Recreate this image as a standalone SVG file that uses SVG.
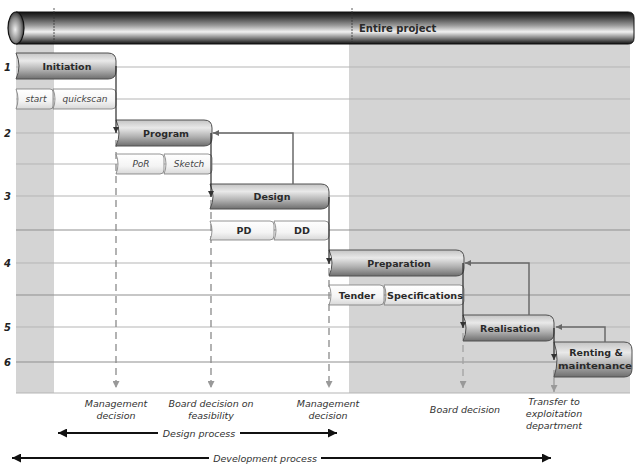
<svg xmlns="http://www.w3.org/2000/svg" width="635" height="468" viewBox="0 0 635 468">
  <defs>
    <linearGradient id="tube" x1="0" y1="0" x2="0" y2="1">
      <stop offset="0" stop-color="#111"/>
      <stop offset="0.15" stop-color="#3a3a3a"/>
      <stop offset="0.42" stop-color="#9a9a9a"/>
      <stop offset="0.62" stop-color="#f2f2f2"/>
      <stop offset="0.8" stop-color="#8a8a8a"/>
      <stop offset="1" stop-color="#111"/>
    </linearGradient>
    <radialGradient id="cap" cx="0.45" cy="0.55" r="0.6">
      <stop offset="0" stop-color="#eee"/>
      <stop offset="0.6" stop-color="#888"/>
      <stop offset="1" stop-color="#222"/>
    </radialGradient>
    <linearGradient id="phase" x1="0" y1="0" x2="0" y2="1">
      <stop offset="0" stop-color="#c4c4c4"/>
      <stop offset="0.3" stop-color="#e9e9e9"/>
      <stop offset="0.65" stop-color="#b0b0b0"/>
      <stop offset="1" stop-color="#6e6e6e"/>
    </linearGradient>
    <linearGradient id="sub" x1="0" y1="0" x2="0" y2="1">
      <stop offset="0" stop-color="#ffffff"/>
      <stop offset="0.6" stop-color="#f4f4f4"/>
      <stop offset="1" stop-color="#d8d8d8"/>
    </linearGradient>
    <marker id="ah-dark" viewBox="0 0 10 10" refX="10" refY="5" markerWidth="6" markerHeight="6" orient="auto" markerUnits="userSpaceOnUse">
      <path d="M0,0 L10,5 L0,10 Z" fill="#333"/>
    </marker>
    <marker id="ah-gray" viewBox="0 0 10 10" refX="10" refY="5" markerWidth="6" markerHeight="6" orient="auto" markerUnits="userSpaceOnUse">
      <path d="M0,0 L10,5 L0,10 Z" fill="#666"/>
    </marker>
    <marker id="ah-light" viewBox="0 0 10 10" refX="10" refY="5" markerWidth="7" markerHeight="7" orient="auto" markerUnits="userSpaceOnUse">
      <path d="M0,0 L10,5 L0,10 Z" fill="#999"/>
    </marker>
    <marker id="ah-black" viewBox="0 0 10 10" refX="10" refY="5" markerWidth="11" markerHeight="9" orient="auto" markerUnits="userSpaceOnUse">
      <path d="M0,0 L10,5 L0,10 Z" fill="#111"/>
    </marker>
  </defs>
  <style>
    .row { stroke: #b5b5b5; stroke-width: 1; }
    .row2 { stroke: #8f8f8f; stroke-width: 1; }
    .phase { fill: url(#phase); stroke: #505050; stroke-width: 1; }
    .sub { fill: url(#sub); stroke: #7a7a7a; stroke-width: 0.8; }
    .lbl { font-family: "DejaVu Sans", "Liberation Sans", sans-serif; font-size: 9.5px; font-weight: bold; fill: #2a2a2a; text-anchor: middle; }
    .sublbl { font-family: "DejaVu Sans", "Liberation Sans", sans-serif; font-size: 9.5px; font-weight: bold; fill: #2a2a2a; text-anchor: middle; }
    .subit { font-family: "DejaVu Sans", "Liberation Sans", sans-serif; font-size: 9px; font-style: italic; fill: #444; text-anchor: middle; }
    .num { font-family: "DejaVu Sans", "Liberation Sans", sans-serif; font-size: 10px; font-weight: bold; font-style: italic; fill: #222; }
    .note { font-family: "DejaVu Sans", "Liberation Sans", sans-serif; font-size: 9.5px; font-style: italic; fill: #333; text-anchor: middle; }
    .flow { fill: none; stroke: #2a2a2a; stroke-width: 1.2; }
    .back { fill: none; stroke: #6a6a6a; stroke-width: 1.5; }
    .guide { fill: none; stroke: #8a8a8a; stroke-width: 1.3; stroke-dasharray: 7 5; }
    .guide2 { fill: none; stroke: #a2a2a2; stroke-width: 1.3; stroke-dasharray: 7 5; }
    .proc { fill: none; stroke: #111; stroke-width: 2.2; }
  </style>

  <!-- background bands -->
  <rect x="16" y="44" width="38" height="349" fill="#d4d4d4"/>
  <rect x="349" y="44" width="281" height="349" fill="#d4d4d4"/>

  <!-- row grid -->
  <g id="grid">
    <line class="row" x1="16" y1="67" x2="630" y2="67"/>
    <line class="row" x1="16" y1="99" x2="630" y2="99"/>
    <line class="row" x1="16" y1="133" x2="630" y2="133"/>
    <line class="row" x1="16" y1="164" x2="630" y2="164"/>
    <line class="row" x1="16" y1="196" x2="630" y2="196"/>
    <line class="row2" x1="16" y1="230" x2="630" y2="230"/>
    <line class="row" x1="16" y1="263" x2="630" y2="263"/>
    <line class="row2" x1="16" y1="295" x2="630" y2="295"/>
    <line class="row" x1="16" y1="327" x2="630" y2="327"/>
    <line class="row2" x1="16" y1="362" x2="630" y2="362"/>
    <line class="row" x1="16" y1="393" x2="630" y2="393"/>
  </g>

  <!-- row numbers -->
  <g id="numbers">
    <text class="num" x="4" y="71">1</text>
    <text class="num" x="4" y="137">2</text>
    <text class="num" x="4" y="200">3</text>
    <text class="num" x="4" y="267">4</text>
    <text class="num" x="4" y="331">5</text>
    <text class="num" x="4" y="366">6</text>
  </g>

  <!-- project tube -->
  <g id="entire-project">
    <path d="M16,12 H628 Q634,12 634,18 V38 Q634,44 628,44 H16 Z" fill="url(#tube)" stroke="#111" stroke-width="1"/>
    <ellipse cx="16" cy="28" rx="8" ry="16" fill="url(#cap)" stroke="#111" stroke-width="1.2"/>
    <line x1="54" y1="8" x2="54" y2="44" stroke="#333" stroke-width="0.8" stroke-dasharray="2 1"/>
    <line x1="352" y1="8" x2="352" y2="44" stroke="#333" stroke-width="0.8" stroke-dasharray="2 1"/>
    <text class="lbl" x="359" y="32" style="text-anchor:start;font-size:10px">Entire project</text>
  </g>

  <!-- connectors -->
  <g id="connectors">
    <!-- decision guides -->
    <path class="guide" d="M116,140 V388" marker-end="url(#ah-light)"/>
    <path class="guide" d="M211,200 V388" marker-end="url(#ah-light)"/>
    <path class="guide" d="M329,268 V388" marker-end="url(#ah-light)"/>
    <path class="guide2" d="M463,333 V388" marker-end="url(#ah-light)"/>
    <path d="M554,370 V392" fill="none" stroke="#999" stroke-width="1.3" marker-end="url(#ah-light)"/>
  </g>

  <!-- phases -->
  <g id="initiation">
    <path class="phase" d="M16,53 H108 Q116,53 116,61 V71 Q116,79 108,79 H16 Q22,66 16,53 Z"/>
    <text class="lbl" x="67" y="69.5">Initiation</text>
  </g>
  <g id="initiation-steps">
    <path class="sub" d="M16,89 H50 Q53,89 53,92 V106 Q53,109 50,109 H16 Q20,99 16,89 Z"/>
    <path class="sub" d="M53,89 H112 Q116,89 116,93 V105 Q116,109 112,109 H53 Q57,99 53,89 Z"/>
    <text class="subit" x="36" y="102">start</text>
    <text class="subit" x="85" y="102">quickscan</text>
  </g>

  <g id="program">
    <path class="phase" d="M116,120 H204 Q212,120 212,128 V138 Q212,146 204,146 H116 Q122,133 116,120 Z"/>
    <text class="lbl" x="166" y="136.5">Program</text>
  </g>
  <g id="program-steps">
    <path class="sub" d="M116,154 H160 Q164,154 164,158 V170 Q164,174 160,174 H116 Q120,164 116,154 Z"/>
    <path class="sub" d="M164,154 H208 Q212,154 212,158 V170 Q212,174 208,174 H164 Q168,164 164,154 Z"/>
    <text class="subit" x="141" y="167">PoR</text>
    <text class="subit" x="189" y="167">Sketch</text>
  </g>

  <g id="design">
    <path class="phase" d="M210,184 H321 Q329,184 329,192 V201 Q329,209 321,209 H210 Q216,196.5 210,184 Z"/>
    <text class="lbl" x="272" y="200">Design</text>
  </g>
  <g id="design-steps">
    <path class="sub" d="M210,221 H270 Q274,221 274,225 V236 Q274,240 270,240 H210 Q214,230.5 210,221 Z"/>
    <path class="sub" d="M274,221 H325 Q329,221 329,225 V236 Q329,240 325,240 H274 Q278,230.5 274,221 Z"/>
    <text class="sublbl" x="244" y="234">PD</text>
    <text class="sublbl" x="302" y="234">DD</text>
  </g>

  <g id="preparation">
    <path class="phase" d="M329,250 H456 Q464,250 464,258 V268 Q464,276 456,276 H329 Q335,263 329,250 Z"/>
    <text class="lbl" x="399" y="266.5">Preparation</text>
  </g>
  <g id="preparation-steps">
    <path class="sub" d="M329,285 H380 Q384,285 384,289 V301 Q384,305 380,305 H329 Q333,295 329,285 Z"/>
    <path class="sub" d="M384,285 H460 Q464,285 464,289 V301 Q464,305 460,305 H384 Q388,295 384,285 Z"/>
    <text class="sublbl" x="357" y="298.5">Tender</text>
    <text class="sublbl" x="425" y="298.5" textLength="76" lengthAdjust="spacingAndGlyphs">Specifications</text>
  </g>

  <g id="realisation">
    <path class="phase" d="M463,315 H546 Q554,315 554,323 V333 Q554,341 546,341 H463 Q469,328 463,315 Z"/>
    <text class="lbl" x="510" y="331.5">Realisation</text>
  </g>

  <g id="renting">
    <path class="phase" d="M554,342 H624 Q632,342 632,350 V369 Q632,377 624,377 H554 Q560,359.5 554,342 Z"/>
    <text class="lbl" x="596" y="356">Renting &amp;</text>
    <text class="lbl" x="595" y="369" textLength="74" lengthAdjust="spacingAndGlyphs">maintenance</text>
  </g>

  <!-- phase hand-overs and feedback loops -->
  <g id="flow">
    <path class="flow" d="M116,66 V133" marker-end="url(#ah-dark)"/>
    <path class="flow" d="M211,133 V197" marker-end="url(#ah-dark)"/>
    <path class="flow" d="M329,197 V264" marker-end="url(#ah-dark)"/>
    <path class="flow" d="M463,263 V328" marker-end="url(#ah-dark)"/>
    <path class="flow" d="M554,328 V360" marker-end="url(#ah-dark)"/>
    <path class="back" d="M293,184 V133 H213" marker-end="url(#ah-gray)"/>
    <path class="back" d="M529,315 V263 H465" marker-end="url(#ah-gray)"/>
    <path class="back" d="M605,342 V327 H556" marker-end="url(#ah-gray)"/>
  </g>

  <!-- decision notes -->
  <g id="decisions">
    <text class="note" x="116" y="407">Management</text>
    <text class="note" x="116" y="419">decision</text>
    <text class="note" x="211" y="407">Board decision on</text>
    <text class="note" x="211" y="419">feasibility</text>
    <text class="note" x="328" y="407">Management</text>
    <text class="note" x="328" y="419">decision</text>
    <text class="note" x="465" y="413">Board decision</text>
    <text class="note" x="554" y="405">Transfer to</text>
    <text class="note" x="554" y="417">exploitation</text>
    <text class="note" x="554" y="429">department</text>
  </g>

  <!-- process spans -->
  <g id="design-process">
    <path class="proc" d="M158,433 H58" marker-end="url(#ah-black)"/>
    <path class="proc" d="M240,433 H337" marker-end="url(#ah-black)"/>
    <text class="note" x="199" y="436.5">Design process</text>
  </g>
  <g id="development-process">
    <path class="proc" d="M209,458 H12" marker-end="url(#ah-black)"/>
    <path class="proc" d="M321,458 H551" marker-end="url(#ah-black)"/>
    <text class="note" x="265" y="461.5">Development process</text>
  </g>
</svg>
